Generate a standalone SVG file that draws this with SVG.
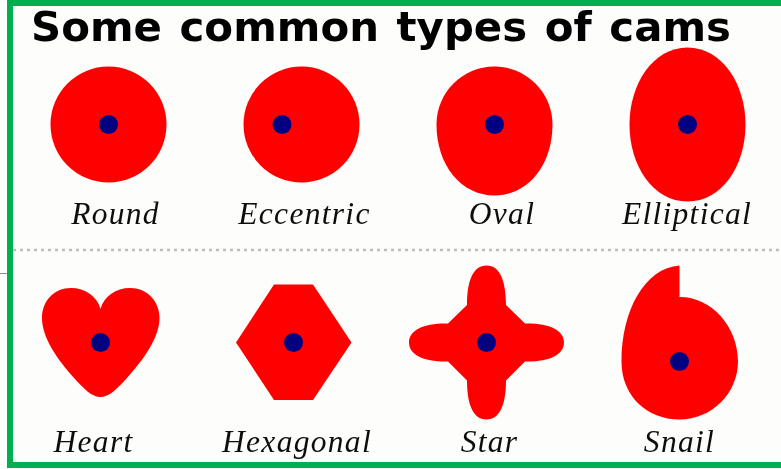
<svg xmlns="http://www.w3.org/2000/svg" width="781" height="469" viewBox="0 0 781 469">
<defs><filter id="soft" x="-5%" y="-5%" width="110%" height="110%"><feGaussianBlur stdDeviation="0.55"/></filter></defs>
<style>
.cam{fill:#ff0000}
.hub{fill:#000080}
.lab{font-family:"Liberation Serif","Times New Roman",serif;font-style:italic;font-size:31.5px;fill:#111;text-anchor:middle;letter-spacing:1.3px}
.title{font-family:"DejaVu Sans",sans-serif;font-weight:700;font-size:41.500px;fill:#000;word-spacing:3px}
</style>
<rect width="781" height="469" fill="#ffffff"/>
<rect x="10" y="3" width="771" height="461" fill="#fdfdfb"/>
<line x1="0" y1="273.500" x2="10" y2="273.500" stroke="#8c8c8c" stroke-width="1"/>
<g filter="url(#soft)">
<line x1="13" y1="250" x2="781" y2="250" stroke="#bdbdbd" stroke-width="2.5" stroke-dasharray="3 4"/>
<text class="title" x="31" y="41" textLength="700" lengthAdjust="spacingAndGlyphs">Some common types of cams</text>
<g id="round"><circle class="cam" cx="108.500" cy="124.500" r="58"/><circle class="hub" cx="108.500" cy="124.500" r="9.500"/><text class="lab" x="115.500" y="224">Round</text></g>
<g id="eccentric"><circle class="cam" cx="301.500" cy="124.500" r="58"/><circle class="hub" cx="282" cy="124.500" r="9.500"/><text class="lab" x="304.500" y="224">Eccentric</text></g>
<g id="oval"><path class="cam" d="M494.500 66.500C526.500 66.500 552.500 92.500 552.500 124.500C552.500 165 528 195.500 494.500 195.500C461 195.500 436.500 165 436.500 124.500C436.500 92.500 462.500 66.500 494.500 66.500Z"/><circle class="hub" cx="494.500" cy="124.500" r="9.500"/><text class="lab" x="502" y="224">Oval</text></g>
<g id="elliptical"><path class="cam" d="M687.500 47.500C722 47.500 745.500 84 745.500 124.500C745.500 166 722 201.500 687.500 201.500C653 201.500 629.500 166 629.500 124.500C629.500 84 653 47.500 687.500 47.500Z"/><circle class="hub" cx="687.500" cy="124.500" r="9.500"/><text class="lab" x="687" y="224">Elliptical</text></g>
<g id="heart"><path class="cam" d="M100.500 309C97 296 85 288 71 288C54 288 42 301 42 318C42 338 58 360 74 378C84 389 92 397 100.500 397C109 397 117 389 127 378C143 360 159.500 338 159.500 318C159.500 301 147 288 130 288C116 288 104 296 100.500 309Z"/><circle class="hub" cx="100.500" cy="342.500" r="9.500"/><text class="lab" x="93.500" y="452">Heart</text></g>
<g id="hexagonal"><polygon class="cam" points="274,284.500 313,284.500 351.500,342.500 313,400 274,400 236,342.500"/><circle class="hub" cx="293.500" cy="342.500" r="9.500"/><text class="lab" x="297" y="452">Hexagonal</text></g>
<g id="star"><path class="cam" d="M486.500 265.500C500 265.500 506 281 506 305L525 323.500C549 323 564 330 564 342.500C564 355 549 362 525 361.500L506 380.500C506 404 500 419.500 486.500 419.500C473 419.500 467 404 467 380.500L448 361.500C424 362 409 355 409 342.500C409 330 424 323 448 323.500L467 305C467 281 473 265.500 486.500 265.500Z"/><circle class="hub" cx="486.500" cy="342.500" r="9.500"/><text class="lab" x="489.500" y="452">Star</text></g>
<g id="snail"><path class="cam" d="M679.500 265.500L679.500 297C712 297 738 327 738 361.500C738 393 712 419.500 679.500 419.500C647 419.500 621.500 396 621.500 361.500C621.500 310 645 268 679.500 265.500Z"/><circle class="hub" cx="679.500" cy="361.500" r="9.500"/><text class="lab" x="679.500" y="452">Snail</text></g>
</g>
<path d="M10 468V3H781M10 465H781" fill="none" stroke="#00b050" stroke-width="6"/>
</svg>
